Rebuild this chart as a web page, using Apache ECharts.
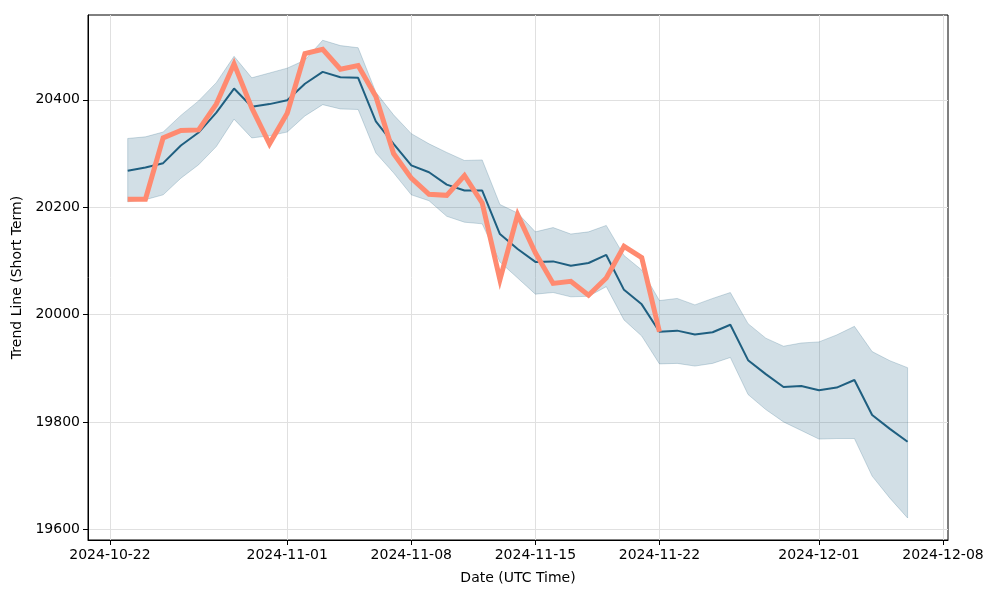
<!DOCTYPE html>
<html>
<head>
<meta charset="utf-8">
<script src="https://cdn.jsdelivr.net/npm/echarts@6/dist/echarts.min.js"></script>
<style>html,body{margin:0;padding:0;background:#fff}#c{width:1000px;height:600px}</style>
</head>
<body>
<div id="c"></div>
<script>
const startDate = '2024-10-23';
const trendMid = [20268,20274,20282,20315,20339,20376,20421,20387,20392,20399,20430,20452,20442,20441,20360,20318,20278,20265,20242,20231,20231,20150,20122,20098,20099,20091,20096,20111,20046,20019,19968,19970,19963,19967,19981,19915,19889,19865,19867,19859,19864,19878,19813,19787,19763];
const trendUpper = [20328,20331,20340,20371,20398,20432,20481,20441,20450,20459,20474,20511,20501,20497,20414,20372,20337,20318,20302,20287,20288,20205,20189,20154,20162,20150,20154,20166,20110,20083,20026,20030,20018,20030,20041,19983,19956,19941,19947,19949,19962,19978,19931,19914,19901];
const trendLower = [20210,20214,20223,20254,20279,20313,20364,20329,20333,20340,20370,20391,20383,20382,20301,20264,20223,20212,20183,20172,20169,20098,20068,20038,20041,20033,20034,20052,19990,19960,19908,19909,19904,19909,19920,19851,19823,19800,19784,19768,19769,19769,19699,19658,19621];
const actual = [20215,20215,20329,20343,20344,20392,20467,20385,20318,20375,20486,20494,20457,20464,20406,20300,20254,20224,20222,20259,20208,20065,20186,20115,20058,20062,20036,20068,20127,20106,19968];
const xTickLabels = ['2024-10-22','2024-11-01','2024-11-08','2024-11-15','2024-11-22','2024-12-01','2024-12-08'];
const yTicks = [19600,19800,20000,20200,20400];

const DAY = 86400000;
const t0 = Date.parse(startDate + 'T00:00:00Z');
const ts = trendMid.map((_, i) => t0 + i * DAY);
const tickTs = xTickLabels.map(s => Date.parse(s + 'T00:00:00Z'));
function fmt(v){const d=new Date(v);const p=n=>String(n).padStart(2,'0');return d.getUTCFullYear()+'-'+p(d.getUTCMonth()+1)+'-'+p(d.getUTCDate());}

const xMin = Date.parse('2024-10-22T00:00:00Z') - 1.24 * DAY;
const xMax = Date.parse('2024-12-08T00:00:00Z') + 0.28 * DAY;

const bandData = ts.map((t,i)=>[t,trendLower[i],trendUpper[i]]);

function renderBand(params, api){
  if (params.dataIndexInside !== 0) return null;
  const n = params.dataInsideLength;
  const up = [], lo = [];
  for (let i=0;i<n;i++){
    const x = api.value(0,i);
    up.push(api.coord([x, api.value(2,i)]));
    lo.push(api.coord([x, api.value(1,i)]));
  }
  const pts = up.concat(lo.reverse());
  return {type:'polygon', shape:{points:pts},
    style:{fill:'rgba(31,95,128,0.2)', stroke:'rgba(31,95,128,0.22)', lineWidth:1}};
}

const chart = echarts.init(document.getElementById('c'), null, {renderer:'canvas'});
const font = 'DejaVu Sans';
chart.setOption({
  animation:false,
  backgroundColor:'#fff',
  textStyle:{fontFamily:font},
  grid:{left:88,right:52,top:15,bottom:60,show:true,borderColor:'#000',borderWidth:1,backgroundColor:'transparent'},
  xAxis:{
    type:'value', min:xMin, max:xMax,
    name:'Date (UTC Time)', nameLocation:'middle', nameGap:31,
    nameTextStyle:{color:'#000',fontSize:14,fontFamily:font},
    axisLine:{show:true,lineStyle:{color:'#000'}},
    axisTick:{show:true,length:5,lineStyle:{color:'#000'},customValues:tickTs},
    axisLabel:{color:'#000',fontSize:14,fontFamily:font,margin:8,customValues:tickTs,formatter:v=>fmt(v),showMinLabel:true,showMaxLabel:true},
    splitLine:{show:true,lineStyle:{color:'#e0e0e0',width:1}}
  },
  yAxis:{
    type:'value', min:19580, max:20558,
    name:'Trend Line (Short Term)', nameLocation:'middle', nameGap:59, nameRotate:90,
    nameTextStyle:{color:'#000',fontSize:14,fontFamily:font},
    axisLine:{show:true,lineStyle:{color:'#000'}},
    axisTick:{show:true,length:5,lineStyle:{color:'#000'},customValues:yTicks},
    axisLabel:{color:'#000',fontSize:14,fontFamily:font,margin:8,customValues:yTicks,formatter:v=>String(v)},
    splitLine:{show:true,lineStyle:{color:'#e0e0e0',width:1}}
  },
  series:[
    {type:'custom',name:'band',data:bandData,renderItem:renderBand,encode:{x:0,y:[1,2]},z:1,clip:true},
    {type:'line',name:'trend',data:ts.map((t,i)=>[t,trendMid[i]]),symbol:'none',
     lineStyle:{color:'#1f5f80',width:2},z:3},
    {type:'line',name:'actual',data:actual.map((v,i)=>[ts[i],v]),symbol:'none',
     lineStyle:{color:'#ff8a70',width:5,cap:'butt',join:'miter'},z:4}
  ]
});
</script>
</body>
</html>
